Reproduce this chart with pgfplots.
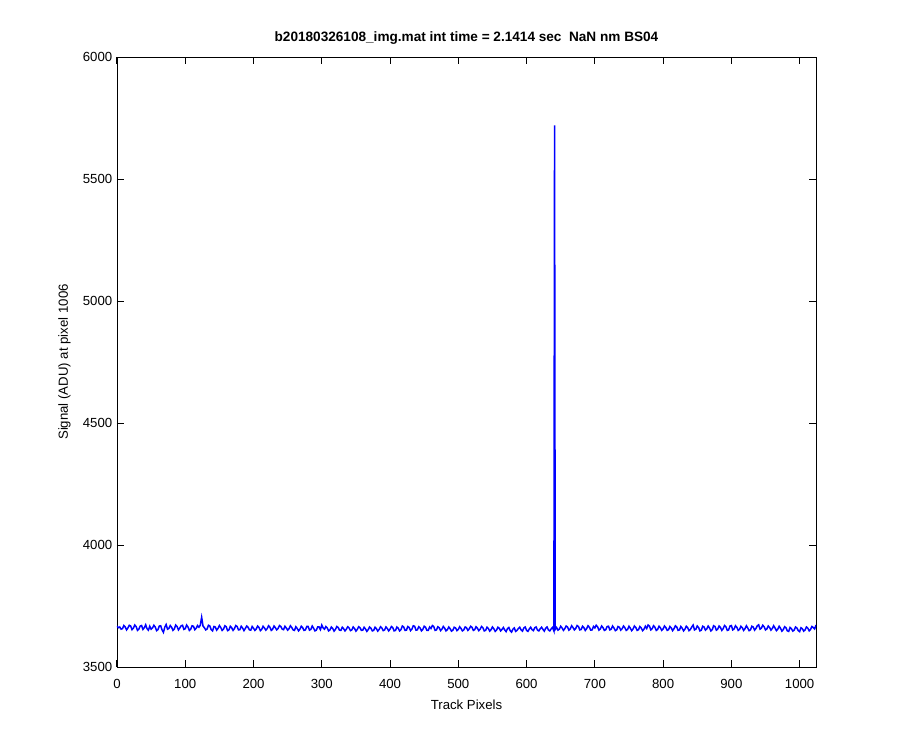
\documentclass[border=0pt]{standalone}
\usepackage{pgfplots}
\pgfplotsset{compat=1.18}
\usepackage{fontspec}
\setmainfont{Liberation Sans}
\begin{document}
\fontsize{6.6}{8}\selectfont
\begin{tikzpicture}
\path[use as bounding box] (-58.5pt,-41.5pt) rectangle (391.5pt,333.5pt);
\begin{axis}[
  scale only axis,
  width=349.5pt, height=305pt,
  xmin=0, xmax=1024, ymin=3500, ymax=6000,
  xtick={0,100,...,1000}, ytick={3500,4000,...,6000},
  tick align=inside,
  major tick length=3.5pt,
  axis line style={line width=0.45pt},
  tick style={line width=0.5pt, black},
  /pgf/number format/assume math mode=true,
  /pgf/number format/set thousands separator={},
  ticklabel style={font=\fontsize{6.6}{8}\selectfont},
  xticklabel style={yshift=-3.5pt},
  xlabel={Track Pixels},
  ylabel={Signal (ADU) at pixel 1006},
  label style={font=\fontsize{6.6}{8}\selectfont},
  xlabel style={yshift=-1.5pt},
  ylabel style={yshift=1.5pt},
  title={\bfseries b20180326108\_img.mat int time = 2.1414 sec\ \ NaN nm BS04},
  title style={font=\fontsize{6.8}{8}\selectfont, yshift=-2pt},
]
\addplot[blue, line width=0.75pt, mark=none] coordinates {
(0,3668)(2,3661)(4,3664)(6,3655)(8,3657)(10,3670)(12,3664)(14,3652)(16,3660)(18,3671)
(20,3668)(22,3653)(24,3659)(26,3672)(28,3666)(30,3650)(32,3655)(34,3668)(36,3670)(38,3654)
(40,3661)(42,3673)(44,3657)(46,3651)(48,3667)(50,3655)(52,3660)(54,3671)(56,3664)(58,3649)
(60,3653)(62,3668)(64,3669)(66,3652)(68,3642)(70,3663)(72,3674)(74,3655)(76,3658)(78,3670)
(80,3663)(82,3650)(84,3656)(86,3672)(88,3666)(90,3652)(92,3660)(94,3669)(96,3671)(98,3654)
(100,3657)(102,3672)(104,3664)(106,3650)(108,3655)(110,3669)(112,3667)(114,3653)(116,3659)(118,3670)
(120,3663)(122,3671)(124,3704)(126,3668)(128,3661)(130,3652)(132,3656)(134,3671)(136,3668)(138,3653)
(140,3648)(142,3666)(144,3664)(146,3651)(148,3658)(150,3670)(152,3662)(154,3650)(156,3655)(158,3669)
(160,3665)(162,3649)(164,3652)(166,3667)(168,3661)(170,3650)(172,3657)(174,3670)(176,3666)(178,3652)
(180,3653)(182,3667)(184,3660)(186,3649)(188,3658)(190,3668)(192,3663)(194,3652)(196,3651)(198,3666)
(200,3659)(202,3650)(204,3656)(206,3668)(208,3662)(210,3649)(212,3654)(214,3667)(216,3660)(218,3651)
(220,3657)(222,3669)(224,3663)(226,3650)(228,3655)(230,3668)(232,3661)(234,3652)(236,3658)(238,3670)
(240,3666)(242,3655)(244,3653)(246,3667)(248,3660)(250,3651)(252,3657)(254,3669)(256,3662)(258,3652)
(260,3650)(262,3665)(264,3658)(266,3648)(268,3655)(270,3667)(272,3661)(274,3650)(276,3652)(278,3666)
(280,3666)(282,3651)(284,3654)(286,3668)(288,3659)(290,3648)(292,3651)(294,3664)(296,3664)(298,3653)
(300,3672)(302,3660)(304,3655)(306,3666)(308,3660)(310,3648)(312,3652)(314,3664)(316,3658)(318,3647)
(320,3654)(322,3666)(324,3662)(326,3651)(328,3650)(330,3663)(332,3657)(334,3648)(336,3655)(338,3665)
(340,3660)(342,3649)(344,3652)(346,3664)(348,3658)(350,3647)(352,3654)(354,3665)(356,3661)(358,3650)
(360,3651)(362,3663)(364,3656)(366,3646)(368,3653)(370,3664)(372,3659)(374,3648)(376,3650)(378,3663)
(380,3657)(382,3647)(384,3654)(386,3665)(388,3660)(390,3649)(392,3652)(394,3664)(396,3658)(398,3648)
(400,3655)(402,3666)(404,3661)(406,3648)(408,3650)(410,3664)(412,3659)(414,3648)(416,3653)(418,3668)
(420,3664)(422,3650)(424,3651)(426,3666)(428,3662)(430,3649)(432,3655)(434,3669)(436,3667)(438,3651)
(440,3652)(442,3665)(444,3660)(446,3648)(448,3654)(450,3667)(452,3663)(454,3650)(456,3650)(458,3664)
(460,3658)(462,3670)(464,3666)(466,3650)(468,3652)(470,3665)(472,3661)(474,3649)(476,3655)(478,3666)
(480,3659)(482,3648)(484,3653)(486,3664)(488,3657)(490,3647)(492,3651)(494,3663)(496,3660)(498,3649)
(500,3654)(502,3665)(504,3658)(506,3648)(508,3652)(510,3664)(512,3661)(514,3650)(516,3656)(518,3667)
(520,3663)(522,3650)(524,3653)(526,3665)(528,3659)(530,3649)(532,3655)(534,3666)(536,3661)(538,3648)
(540,3650)(542,3663)(544,3658)(546,3647)(548,3653)(550,3664)(552,3657)(554,3646)(556,3651)(558,3663)
(560,3659)(562,3648)(564,3654)(566,3662)(568,3652)(570,3645)(572,3657)(574,3662)(576,3649)(578,3643)
(580,3655)(582,3660)(584,3646)(586,3650)(588,3658)(590,3663)(592,3652)(594,3647)(596,3660)(598,3664)
(600,3650)(602,3646)(604,3656)(606,3663)(608,3653)(610,3649)(612,3661)(614,3664)(616,3651)(618,3648)
(620,3657)(622,3663)(624,3654)(626,3647)(628,3659)(630,3664)(632,3652)(634,3648)(636,3656)(638,3662)
(640,3648)(641,5720)(642,3654)(644,3662)(646,3651)(648,3655)(650,3667)(652,3660)(654,3650)(656,3657)
(658,3668)(660,3664)(662,3651)(664,3656)(666,3669)(668,3662)(670,3652)(672,3658)(674,3670)(676,3666)
(678,3652)(680,3654)(682,3667)(684,3661)(686,3650)(688,3657)(690,3669)(692,3663)(694,3651)(696,3652)
(698,3666)(700,3660)(702,3671)(704,3665)(706,3651)(708,3656)(710,3668)(712,3661)(714,3650)(716,3653)
(718,3666)(720,3667)(722,3652)(724,3655)(726,3668)(728,3660)(730,3649)(732,3652)(734,3666)(736,3663)
(738,3651)(740,3657)(742,3668)(744,3661)(746,3650)(748,3654)(750,3667)(752,3659)(754,3649)(756,3656)
(758,3668)(760,3662)(762,3650)(764,3653)(766,3666)(768,3660)(770,3649)(772,3655)(774,3667)(776,3658)
(778,3672)(780,3668)(782,3652)(784,3657)(786,3669)(788,3663)(790,3650)(792,3654)(794,3667)(796,3661)
(798,3650)(800,3656)(802,3668)(804,3662)(806,3650)(808,3653)(810,3666)(812,3660)(814,3649)(816,3657)
(818,3669)(820,3664)(822,3650)(824,3652)(826,3666)(828,3659)(830,3648)(832,3655)(834,3667)(836,3661)
(838,3649)(840,3654)(842,3664)(844,3672)(846,3652)(848,3655)(850,3668)(852,3662)(854,3648)(856,3651)
(858,3667)(860,3664)(862,3651)(864,3656)(866,3668)(868,3660)(870,3648)(872,3653)(874,3669)(876,3666)
(878,3651)(880,3655)(882,3668)(884,3662)(886,3650)(888,3657)(890,3670)(892,3665)(894,3650)(896,3652)
(898,3668)(900,3670)(902,3652)(904,3656)(906,3669)(908,3663)(910,3650)(912,3654)(914,3667)(916,3661)
(918,3650)(920,3657)(922,3669)(924,3660)(926,3649)(928,3652)(930,3667)(932,3664)(934,3651)(936,3658)
(938,3669)(940,3673)(942,3655)(944,3659)(946,3671)(948,3665)(950,3652)(952,3656)(954,3668)(956,3662)
(958,3651)(960,3658)(962,3669)(964,3660)(966,3649)(968,3655)(970,3667)(972,3659)(974,3647)(976,3653)
(978,3665)(980,3661)(982,3648)(984,3646)(986,3662)(988,3657)(990,3647)(992,3651)(994,3664)(996,3660)
(998,3649)(1000,3645)(1002,3661)(1004,3657)(1006,3647)(1008,3652)(1010,3664)(1012,3659)(1014,3648)(1016,3654)
(1018,3666)(1020,3662)(1022,3656)(1024,3672)
};
\end{axis}
\end{tikzpicture}
\end{document}
